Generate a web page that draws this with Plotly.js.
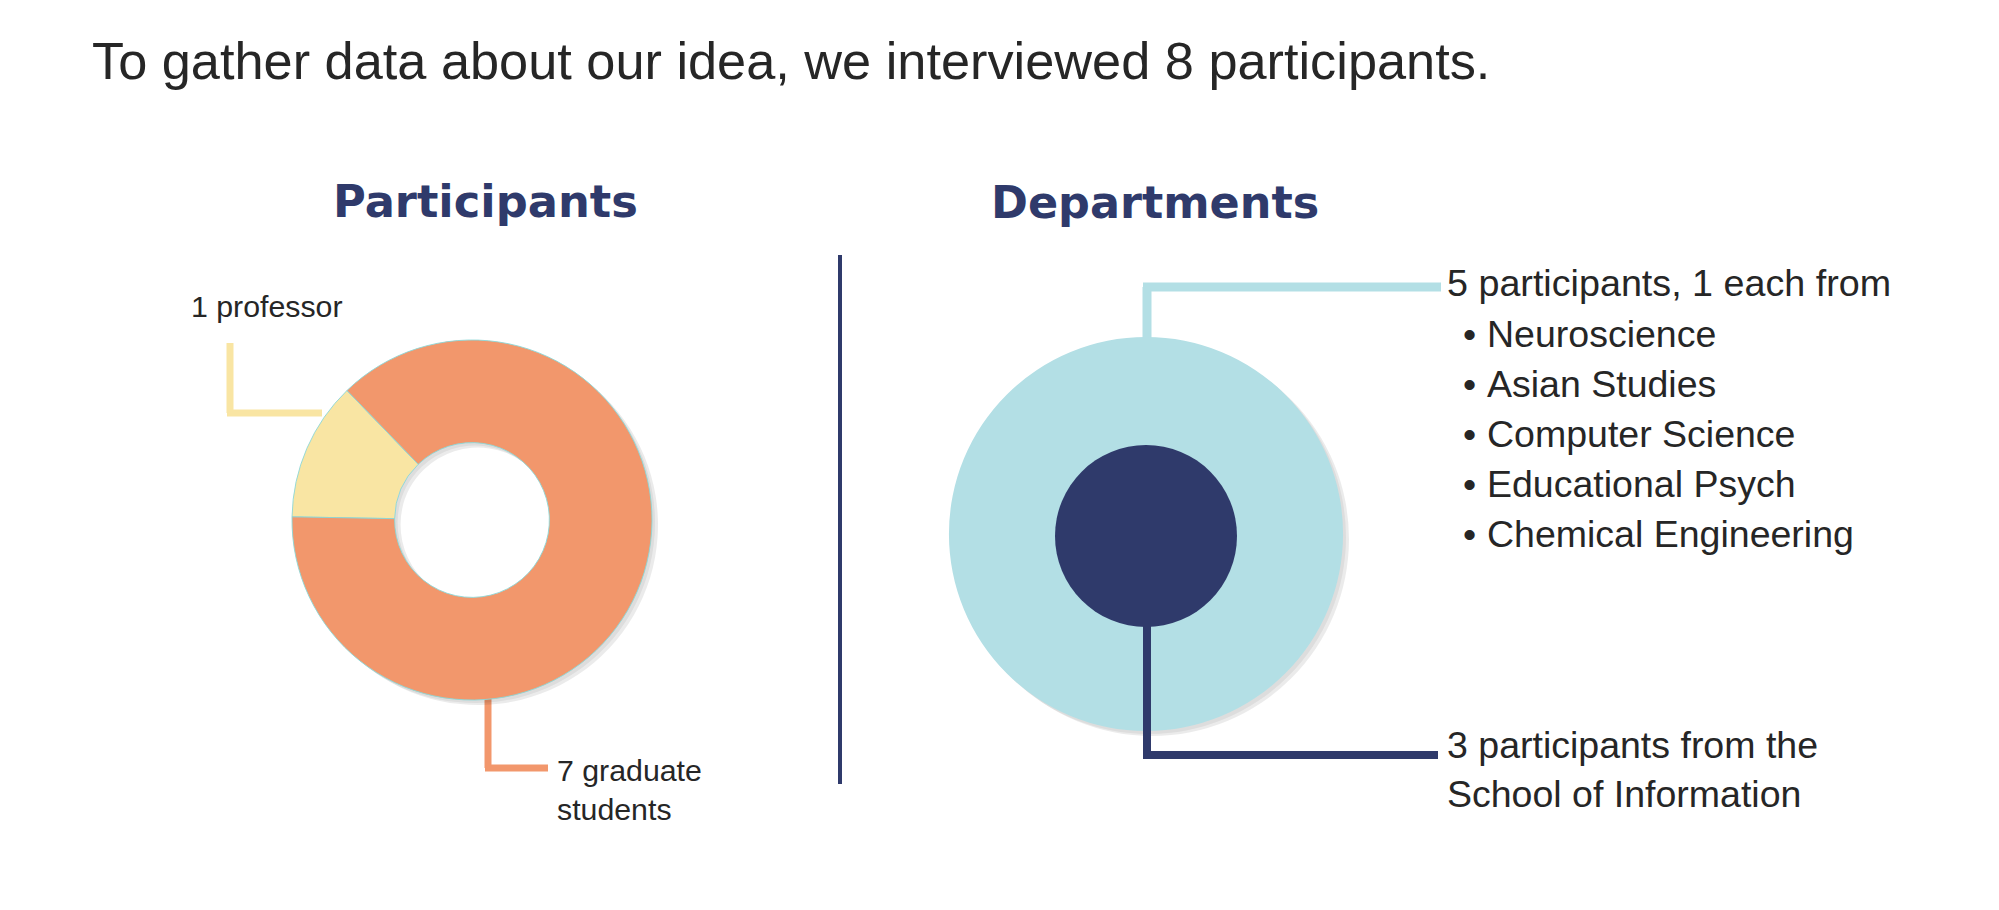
<!DOCTYPE html>
<html>
<head>
<meta charset="utf-8">
<script src="https://cdn.plot.ly/plotly-3.0.1.min.js"></script>
<style>html,body{margin:0;padding:0;background:#fff;}#chart{width:1999px;height:910px;}</style>
</head>
<body>
<div id="chart"></div>
<script>
// ---- data ----
const roles = ['Professor', 'Graduate students'];
const roleCounts = [1, 7];
const roleLabels = ['professor', 'graduate<br>students'];
const deptGroups = ['Other departments', 'School of Information'];
const deptCounts = [5, 3];
const otherDepartments = ['Neuroscience', 'Asian Studies', 'Computer Science', 'Educational Psych', 'Chemical Engineering'];
const sectionTitles = ['Participants', 'Departments'];

// ---- helpers (pixel -> paper) ----
const W = 1999, H = 910;
const px = x => x / W;
const py = y => 1 - y / H;
function dom(cx, cy, r) {
  return {x: [px(cx - r), px(cx + r)], y: [py(cy + r), py(cy - r)]};
}

const NAVY = '#2F3A6B', ORANGE = '#F2976C', YELLOW = '#F9E5A3', LIGHTBLUE = '#B3DFE5';
const TXT = '#262626';
const FONT = 'Liberation Sans, Arial, Helvetica, sans-serif';
const total = roleCounts.reduce((a, b) => a + b, 0);

const donutC = [472, 520, 180];
const outerC = [1146, 534, 197];
const innerC = [1146, 536, 91];
const ROT = -89;

const traces = [
  // soft shadows
  {type: 'pie', values: roleCounts, labels: roles, hole: 0.43, sort: false,
   direction: 'counterclockwise', rotation: ROT,
   domain: dom(donutC[0] + 6, donutC[1] + 5, donutC[2]),
   marker: {colors: ['rgba(0,0,0,0.08)', 'rgba(0,0,0,0.08)']},
   textinfo: 'none', hoverinfo: 'none', showlegend: false},
  {type: 'pie', values: roleCounts, labels: roles, hole: 0.43, sort: false,
   direction: 'counterclockwise', rotation: ROT,
   domain: dom(donutC[0] + 3, donutC[1] + 3, donutC[2]),
   marker: {colors: ['rgba(0,0,0,0.06)', 'rgba(0,0,0,0.06)']},
   textinfo: 'none', hoverinfo: 'none', showlegend: false},
  {type: 'pie', values: [deptCounts[0]], labels: [deptGroups[0]], sort: false,
   domain: dom(outerC[0] + 6, outerC[1] + 5, outerC[2]),
   marker: {colors: ['rgba(0,0,0,0.08)']},
   textinfo: 'none', hoverinfo: 'none', showlegend: false},
  {type: 'pie', values: [deptCounts[0]], labels: [deptGroups[0]], sort: false,
   domain: dom(outerC[0] + 3, outerC[1] + 3, outerC[2]),
   marker: {colors: ['rgba(0,0,0,0.06)']},
   textinfo: 'none', hoverinfo: 'none', showlegend: false},
  // participants donut
  {type: 'pie', values: roleCounts, labels: roles, hole: 0.43, sort: false,
   direction: 'counterclockwise', rotation: ROT,
   domain: dom(donutC[0], donutC[1], donutC[2]),
   marker: {colors: [YELLOW, ORANGE], line: {color: 'rgba(140,215,215,0.9)', width: 1}},
   textinfo: 'none', hoverinfo: 'label+value', showlegend: false},
  // departments
  {type: 'pie', values: [deptCounts[0]], labels: [deptGroups[0]], sort: false,
   domain: dom(outerC[0], outerC[1], outerC[2]),
   marker: {colors: [LIGHTBLUE]},
   textinfo: 'none', hoverinfo: 'label+value', showlegend: false},
  {type: 'pie', values: [deptCounts[1]], labels: [deptGroups[1]], sort: false,
   domain: dom(innerC[0], innerC[1], innerC[2]),
   marker: {colors: [NAVY]},
   textinfo: 'none', hoverinfo: 'label+value', showlegend: false}
];

function seg(x0, y0, x1, y1, color, w, layer) {
  return {type: 'line', xref: 'paper', yref: 'paper', x0: px(x0), y0: py(y0), x1: px(x1), y1: py(y1),
          line: {color: color, width: w}, layer: layer || 'below'};
}
const shapes = [
  seg(840, 255, 840, 784, NAVY, 4),
  // professor leader
  seg(230, 343, 230, 413, YELLOW, 7),
  seg(227, 413, 322, 413, YELLOW, 7),
  // graduate leader
  seg(488, 690, 488, 768, ORANGE, 7),
  seg(485, 768, 548, 768, ORANGE, 7),
  // other depts leader
  seg(1147, 340, 1147, 287, LIGHTBLUE, 9),
  seg(1143, 287, 1441, 287, LIGHTBLUE, 9),
  // school of information leader
  seg(1147, 620, 1147, 755, NAVY, 8, 'above'),
  seg(1143, 755, 1438, 755, NAVY, 8, 'above')
];

function ann(text, x, yBase, size, opts) {
  return Object.assign({xref: 'paper', yref: 'paper', x: px(x), y: py(yBase), xanchor: 'left', yanchor: 'bottom',
    text: text, showarrow: false, align: 'left',
    font: {family: FONT, size: size, color: TXT}, borderpad: 0}, opts || {});
}
const annotations = [
  {xref: 'paper', yref: 'paper', x: px(485.5), y: py(219), xanchor: 'center', yanchor: 'bottom',
   text: '<b>' + sectionTitles[0] + '</b>', showarrow: false, borderpad: 0, yshift: -10,
   font: {family: 'DejaVu Sans', size: 44.8, color: NAVY}},
  {xref: 'paper', yref: 'paper', x: px(1155), y: py(219), xanchor: 'center', yanchor: 'bottom',
   text: '<b>' + sectionTitles[1] + '</b>', showarrow: false, borderpad: 0, yshift: -10,
   font: {family: 'DejaVu Sans', size: 44.5, color: NAVY}},
  ann(roleCounts[0] + ' ' + roleLabels[0], 190, 317, 30.3, {yshift: -7}),
  ann(roleCounts[1] + ' ' + roleLabels[1], 556, 820, 30.3, {yshift: -7}),
  ann(deptCounts[0] + ' participants, 1 each from', 1446, 296, 37.7, {yshift: -9}),
  ann(deptCounts[1] + ' participants from the<br>School of Information', 1446, 807, 37.5, {yshift: -9})
];
otherDepartments.forEach((d, i) => {
  annotations.push(ann('•', 1462, 347 + i * 50, 37.5, {yshift: -9}));
  annotations.push(ann(d, 1486, 347 + i * 50, 37.5, {yshift: -9}));
});

const layout = {
  width: W, height: H, autosize: false,
  margin: {l: 0, r: 0, t: 0, b: 0},
  paper_bgcolor: '#ffffff', plot_bgcolor: '#ffffff',
  showlegend: false,
  title: {text: 'To gather data about our idea, we interviewed ' + total + ' participants.',
          x: px(92), xref: 'paper', xanchor: 'left', y: py(61), yref: 'paper', yanchor: 'middle',
          font: {family: FONT, size: 52.3, color: TXT}},
  shapes: shapes,
  annotations: annotations
};

Plotly.newPlot('chart', traces, layout, {displayModeBar: false, staticPlot: true});
</script>
</body>
</html>
